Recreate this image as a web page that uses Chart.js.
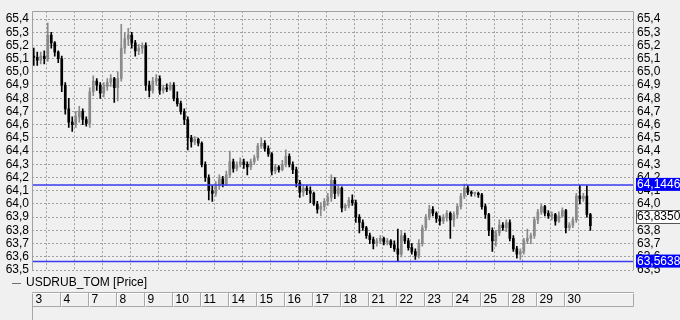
<!DOCTYPE html>
<html><head><meta charset="utf-8">
<script src="https://cdn.jsdelivr.net/npm/chart.js@4.4.1/dist/chart.umd.min.js"></script>
<style>html,body{margin:0;padding:0;background:#f0f0f0;}canvas{display:block;}</style>
</head><body>
<canvas id="c" width="680" height="320"></canvas>
<script>
const seriesName = 'USDRUB_TOM [Price]';
const dayLabels = ['3','4','7','8','9','10','11','14','15','16','17','18','21','22','23','24','25','28','29','30'];
const candlesPerDay = 8;
const yTickValues = [63.5,63.6,63.7,63.8,63.9,64.0,64.1,64.2,64.3,64.4,64.5,64.6,64.7,64.8,64.9,65.0,65.1,65.2,65.3,65.4];
const levelValues = [64.1446, 63.5638];
const lastPrice = 63.8350;

const openP = [
 65.12,65.11,65.09,65.12,65.10,65.28,65.22,65.15,
 65.10,64.90,64.72,64.62,64.60,64.66,64.70,64.64,
 64.61,64.85,64.93,64.90,64.84,64.89,64.92,64.95,
 64.88,64.95,65.18,65.25,65.28,65.22,65.16,65.18,
 65.20,64.90,64.86,64.93,64.95,64.86,64.88,64.87,
 64.90,64.80,64.76,64.70,64.64,64.50,64.47,64.49,
 64.46,64.30,64.20,64.10,64.08,64.14,64.19,64.15,
 64.22,64.32,64.27,64.30,64.32,64.30,64.28,64.32,
 64.35,64.44,64.46,64.42,64.38,64.25,64.28,64.26,
 64.30,64.36,64.30,64.26,64.16,64.09,64.12,64.10,
 64.08,64.00,63.96,63.98,64.02,64.05,64.18,64.08,
 64.12,63.97,63.99,64.03,64.01,63.90,63.86,63.82,
 63.76,63.73,63.70,63.72,63.74,63.71,63.72,63.69,
 63.66,63.62,63.76,63.72,63.67,63.64,63.61,63.70,
 63.82,63.90,63.96,63.93,63.89,63.87,63.90,63.93,
 63.88,63.92,63.98,64.06,64.12,64.09,64.08,64.08,
 64.07,63.98,63.92,63.80,63.72,63.78,63.84,63.82,
 63.86,63.74,63.66,63.62,63.64,63.72,63.74,63.76,
 63.88,63.94,63.98,63.93,63.91,63.92,63.87,63.91,
 63.95,63.82,63.84,63.88,64.06,64.04,64.06,63.92
];
const highP = [
 65.18,65.15,65.15,65.16,65.37,65.30,65.23,65.16,
 65.12,64.92,64.80,64.66,64.70,64.74,64.72,64.66,
 64.88,64.97,64.95,64.92,64.92,64.95,64.98,64.96,
 65.00,65.36,65.30,65.33,65.30,65.24,65.21,65.22,
 65.22,64.93,64.96,64.98,64.97,64.90,64.91,64.92,
 64.92,64.85,64.78,64.72,64.66,64.52,64.51,64.50,
 64.47,64.32,64.22,64.14,64.17,64.22,64.21,64.25,
 64.40,64.34,64.32,64.35,64.34,64.32,64.34,64.37,
 64.46,64.50,64.48,64.44,64.39,64.30,64.29,64.33,
 64.41,64.38,64.32,64.28,64.18,64.14,64.14,64.13,
 64.09,64.02,64.01,64.04,64.08,64.22,64.20,64.14,
 64.13,64.00,64.05,64.07,64.03,63.92,63.88,63.83,
 63.78,63.75,63.74,63.76,63.75,63.74,63.73,63.72,
 63.81,63.80,63.78,63.74,63.70,63.66,63.73,63.84,
 63.92,63.99,63.98,63.94,63.91,63.92,63.95,63.94,
 63.94,64.00,64.08,64.15,64.14,64.10,64.09,64.09,
 64.08,64.00,63.93,63.82,63.80,63.88,63.86,63.88,
 63.88,63.76,63.68,63.66,63.74,63.81,63.78,63.90,
 63.96,64.00,63.99,63.95,63.94,63.93,63.94,63.97,
 63.96,63.86,63.90,64.08,64.14,64.08,64.14,63.93
];
const lowP = [
 65.05,65.05,65.06,65.06,65.08,65.18,65.12,65.07,
 64.85,64.68,64.58,64.55,64.58,64.62,64.60,64.59,
 64.58,64.82,64.86,64.80,64.81,64.86,64.89,64.77,
 64.78,64.93,65.14,65.20,65.18,65.12,65.13,65.14,
 64.86,64.81,64.84,64.90,64.83,64.84,64.85,64.86,
 64.78,64.74,64.68,64.60,64.41,64.43,64.45,64.44,
 64.28,64.17,64.03,64.02,64.06,64.11,64.13,64.14,
 64.20,64.24,64.25,64.28,64.27,64.22,64.26,64.30,
 64.33,64.42,64.40,64.36,64.22,64.23,64.24,64.25,
 64.28,64.28,64.23,64.13,64.05,64.06,64.07,64.01,
 63.99,63.93,63.91,63.95,63.99,64.02,64.04,64.06,
 63.94,63.95,63.97,63.99,63.86,63.78,63.80,63.74,
 63.70,63.66,63.68,63.70,63.69,63.69,63.67,63.64,
 63.57,63.60,63.70,63.65,63.62,63.58,63.59,63.68,
 63.80,63.88,63.91,63.86,63.84,63.85,63.87,63.74,
 63.83,63.89,63.96,64.04,64.07,64.06,64.06,64.05,
 63.96,63.89,63.76,63.64,63.68,63.76,63.80,63.79,
 63.72,63.64,63.59,63.58,63.62,63.70,63.70,63.74,
 63.85,63.92,63.91,63.89,63.88,63.84,63.86,63.90,
 63.78,63.80,63.82,63.86,64.00,64.02,63.90,63.80
];
const closeP = [
 65.11,65.09,65.12,65.10,65.28,65.22,65.15,65.10,
 64.90,64.72,64.62,64.60,64.66,64.70,64.64,64.61,
 64.85,64.93,64.90,64.84,64.89,64.92,64.95,64.88,
 64.95,65.18,65.25,65.28,65.22,65.16,65.18,65.20,
 64.90,64.86,64.93,64.95,64.86,64.88,64.87,64.90,
 64.80,64.76,64.70,64.64,64.50,64.47,64.49,64.46,
 64.30,64.20,64.10,64.08,64.14,64.19,64.15,64.22,
 64.32,64.27,64.30,64.32,64.30,64.28,64.32,64.35,
 64.44,64.46,64.42,64.38,64.25,64.28,64.26,64.30,
 64.36,64.30,64.26,64.16,64.09,64.12,64.10,64.08,
 64.00,63.96,63.98,64.02,64.05,64.18,64.08,64.12,
 63.97,63.99,64.03,64.01,63.90,63.86,63.82,63.76,
 63.73,63.70,63.72,63.74,63.71,63.72,63.69,63.66,
 63.62,63.76,63.72,63.67,63.64,63.61,63.70,63.82,
 63.90,63.96,63.93,63.89,63.87,63.90,63.93,63.88,
 63.92,63.98,64.06,64.12,64.09,64.08,64.08,64.07,
 63.98,63.92,63.80,63.72,63.78,63.84,63.82,63.86,
 63.74,63.66,63.62,63.64,63.72,63.74,63.76,63.88,
 63.94,63.98,63.93,63.91,63.92,63.87,63.91,63.95,
 63.82,63.84,63.88,64.06,64.04,64.06,63.92,63.835
];

const FONT = "'Liberation Sans', Arial, sans-serif";
const UP = '#8a8a8a', DOWN = '#000000';
const GRID = '#a0a0a0';
const LEVEL_LINE = '#3a3af0', LEVEL_BOX = '#0000ff';

const xOf = i => Math.floor(i / candlesPerDay) + ((i % candlesPerDay) + 0.5) / candlesPerDay;
const isUp = i => closeP[i] >= openP[i];
const colorOf = ctx => isUp(ctx.dataIndex) ? UP : DOWN;

const bodyData = openP.map((o, i) => ({x: xOf(i), y: [o, closeP[i]]}));
const wickData = openP.map((o, i) => ({x: xOf(i), y: [lowP[i], highP[i]]}));

const fmt = (v, d) => v.toFixed(d).replace('.', ',');
const xMaxDays = 21.46;

const extras = {
  id: 'extras',
  beforeDraw(chart) {
    const c = chart.ctx;
    c.save(); c.fillStyle = '#f0f0f0'; c.fillRect(0, 0, chart.width, chart.height); c.restore();
  },
  afterDatasetsDraw(chart) {
    const c = chart.ctx, a = chart.chartArea, ys = chart.scales.y;
    c.save();
    c.strokeStyle = LEVEL_LINE; c.lineWidth = 1.5;
    levelValues.forEach(v => {
      const py = ys.getPixelForValue(v);
      c.beginPath(); c.moveTo(a.left, py); c.lineTo(a.right, py); c.stroke();
    });
    c.strokeStyle = GRID; c.lineWidth = 1;
    c.beginPath();
    c.moveTo(Math.round(a.left) + 0.5, a.bottom);
    c.lineTo(Math.round(a.left) + 0.5, Math.round(a.top) + 0.5);
    c.lineTo(Math.round(a.right) + 0.5, Math.round(a.top) + 0.5);
    c.lineTo(Math.round(a.right) + 0.5, a.bottom);
    c.stroke();
    c.restore();
  },
  afterDraw(chart) {
    const c = chart.ctx, a = chart.chartArea, ys = chart.scales.y, xs = chart.scales.x;
    c.save();
    c.font = '12px ' + FONT;
    c.textBaseline = 'middle';
    c.textAlign = 'left';
    const bx = a.right + 3;
    levelValues.forEach(v => {
      const py = ys.getPixelForValue(v);
      c.fillStyle = LEVEL_BOX;
      c.fillRect(bx, py - 7, chart.width - bx, 13);
      c.fillStyle = '#ffffff';
      c.fillText(fmt(v, 4), bx + 1, py);
    });
    const lp = ys.getPixelForValue(lastPrice) - 9;
    c.fillStyle = '#ffffff';
    c.fillRect(bx, lp - 7, chart.width - bx, 13);
    c.strokeStyle = '#555555'; c.lineWidth = 1;
    c.strokeRect(bx + 0.5, Math.round(lp - 7) + 0.5, chart.width - bx, 13);
    c.fillStyle = '#000000';
    c.fillText(fmt(lastPrice, 4), bx + 1, lp);

    const ly = 283;
    c.strokeStyle = '#707070'; c.lineWidth = 1;
    c.beginPath(); c.moveTo(12, ly + 0.5); c.lineTo(21, ly + 0.5); c.stroke();
    c.fillStyle = '#000000';
    c.fillText(seriesName, 26, ly);

    const top = 292.5, bot = 306.5;
    const left = Math.round(a.left) + 0.5, right = Math.round(a.right) + 0.5;
    c.strokeStyle = '#a8a8a8';
    c.beginPath();
    c.moveTo(left, top); c.lineTo(right, top);
    c.moveTo(left, bot); c.lineTo(right, bot);
    c.moveTo(left, top); c.lineTo(left, chart.height);
    c.moveTo(right, top); c.lineTo(right, bot);
    c.stroke();
    c.strokeStyle = '#ffffff';
    c.beginPath(); c.moveTo(left, top + 1); c.lineTo(right, top + 1); c.stroke();
    dayLabels.forEach((lab, d) => {
      const px = Math.round(xs.getPixelForValue(d)) + 0.5;
      if (d > 0) {
        c.strokeStyle = '#a8a8a8';
        c.beginPath(); c.moveTo(px, top); c.lineTo(px, bot); c.stroke();
        c.strokeStyle = '#ffffff';
        c.beginPath(); c.moveTo(px + 1, top + 1); c.lineTo(px + 1, bot); c.stroke();
      }
      c.fillStyle = '#000000';
      c.fillText(lab, px + 3, 300);
    });
    c.restore();
  }
};

new Chart(document.getElementById('c'), {
  type: 'bar',
  data: {
    datasets: [
      { label: 'body', data: bodyData, backgroundColor: colorOf, barThickness: 2, minBarLength: 1, grouped: false, borderWidth: 0, order: 0 },
      { label: 'wick', data: wickData, backgroundColor: colorOf, barThickness: 1, minBarLength: 1, grouped: false, borderWidth: 0, order: 1 }
    ]
  },
  options: {
    responsive: false,
    animation: false,
    layout: { padding: { top: 5, bottom: 50, left: 0, right: 0 } },
    plugins: { legend: { display: false }, tooltip: { enabled: false } },
    scales: {
      x: {
        type: 'linear', min: 0, max: xMaxDays, offset: false,
        afterBuildTicks: s => { s.ticks = dayLabels.map((_, d) => ({ value: d })); },
        afterFit: s => { s.height = 0; },
        ticks: { display: false, autoSkip: false },
        grid: { color: GRID, drawTicks: false, lineWidth: 1 },
        border: { display: false, dash: [2, 2] }
      },
      y: {
        type: 'linear', position: 'left', min: 63.5, max: 65.46,
        afterBuildTicks: s => { s.ticks = yTickValues.map(v => ({ value: v })); },
        afterFit: s => { s.width = 32; },
        ticks: { autoSkip: false, callback: v => fmt(v, 1), color: '#000', font: { family: FONT, size: 12 }, padding: 3 },
        grid: { color: GRID, drawTicks: false, lineWidth: 1 },
        border: { display: false, dash: [2, 2] }
      },
      y2: {
        type: 'linear', position: 'right', min: 63.5, max: 65.46,
        afterBuildTicks: s => { s.ticks = yTickValues.map(v => ({ value: v })); },
        afterFit: s => { s.width = 47; },
        ticks: { autoSkip: false, callback: v => fmt(v, 1), color: '#000', font: { family: FONT, size: 12 }, padding: 4 },
        grid: { display: false, drawTicks: false },
        border: { display: false }
      }
    }
  },
  plugins: [extras]
});
</script></body></html>
